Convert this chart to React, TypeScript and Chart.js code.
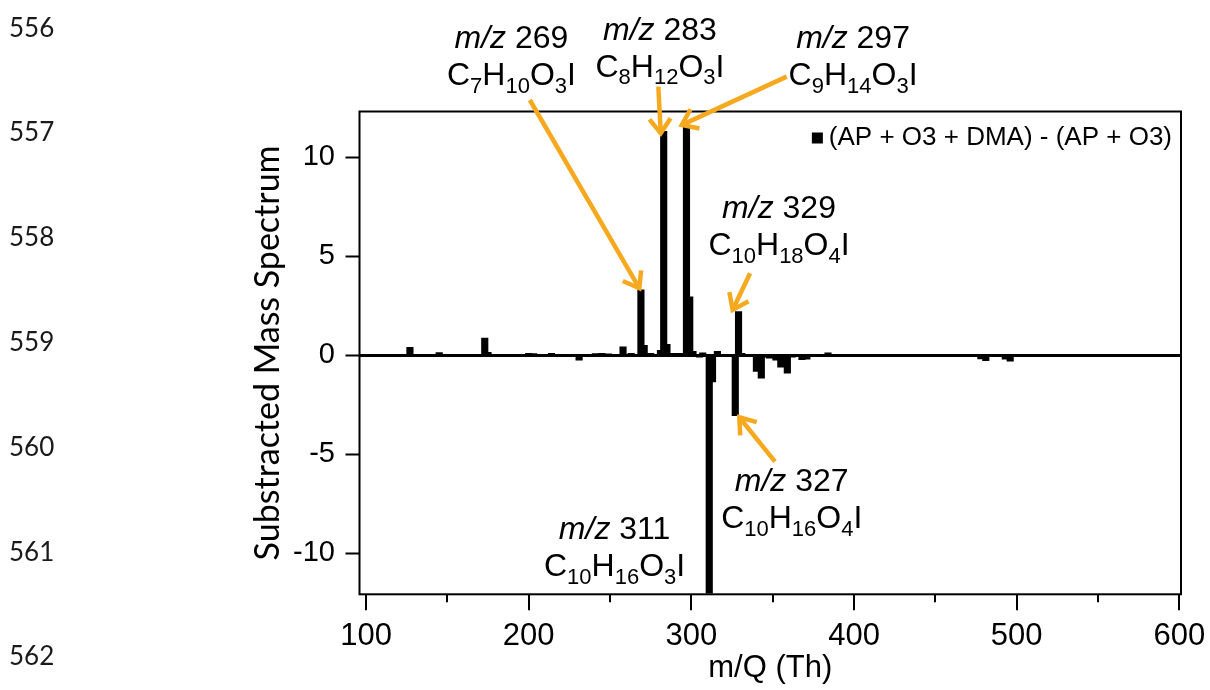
import React, { useEffect, useRef } from 'react';
import { Chart, registerables } from 'chart.js';

Chart.register(...registerables);

// ---------- data ----------
const mzValues = [
  127, 145, 173, 175, 200, 203, 214, 231, 241, 245, 249, 258, 263, 269, 271, 275,
  281, 283, 285, 289, 293, 297, 299, 301, 305, 307, 311, 313, 316, 327, 329, 331,
  340, 343, 345, 348, 352, 355, 359, 362, 368, 371, 377, 384, 478, 481, 493, 496,
];
const signalValues = [
  0.4, 0.14, 0.87, 0.15, 0.1, 0.08, 0.1, -0.25, 0.08, 0.1, 0.05, 0.42, 0.1, 3.3, 0.5, 0.1,
  0.25, 11.3, 0.55, 0.1, 0.1, 11.5, 2.95, 0.2, -0.1, 0.12, -12.0, -1.35, 0.2, -3.05, 2.2, 0.1,
  -0.82, -1.15, -0.1, -0.15, -0.25, -0.6, -0.9, -0.1, -0.22, -0.2, -0.05, 0.12, -0.18, -0.27, -0.2, -0.3,
];
const seriesLabel = '(AP + O3 + DMA) - (AP + O3)';
const xTitle = 'm/Q (Th)';
const yTitle = 'Substracted Mass Spectrum';
const lineNumbers = ['556', '557', '558', '559', '560', '561', '562'];

// annotations (data coordinates)
const annotationMz = [269, 283, 297, 329, 327, 311];
const annotationFormula = ['C7H10O3I', 'C8H12O3I', 'C9H14O3I', 'C10H18O4I', 'C10H16O4I', 'C10H16O3I'];
const labelAnchorX = [189.4, 280.7, 399.4, 353.9, 361.7, 252.8];
const labelAnchorY = [16.08, 16.5, 16.08, 7.5, -6.29, -8.71];
const arrowTailX = [200.7, 279.7, 358.6, 336.1, 351.4, null];
const arrowTailY = [12.88, 13.55, 14.06, 4.14, -5.37, null];
const arrowTipX = [268.0, 281.2, 294.1, 325.4, 329.5, null];
const arrowTipY = [3.38, 11.2, 11.62, 2.29, -3.13, null];

const FONT = "'Liberation Sans', Arial, Helvetica, sans-serif";
const ORANGE = '#F6A91F';

const framePlugin = {
  id: 'frameBox',
  afterDatasetsDraw(chart: any) {
    const { ctx, chartArea: a } = chart;
    ctx.save();
    ctx.strokeStyle = '#000';
    ctx.lineWidth = 2;
    ctx.strokeRect(a.left, a.top, a.right - a.left, a.bottom - a.top);
    const xs = chart.scales.x;
    xs.ticks.forEach((t: any) => {
      const major = Math.abs(t.value % 100) < 1e-6;
      const px = Math.round(xs.getPixelForValue(t.value));
      ctx.beginPath();
      ctx.moveTo(px, a.bottom);
      ctx.lineTo(px, a.bottom + (major ? 16 : 8));
      ctx.stroke();
    });
    ctx.restore();
  },
};

const legendPlugin = {
  id: 'insideLegend',
  afterDraw(chart: any) {
    const { ctx, chartArea: a } = chart;
    const ds = chart.data.datasets[0];
    ctx.save();
    ctx.font = `26px ${FONT}`;
    const w = ctx.measureText(ds.label).width;
    const right = a.right - 9;
    const cy = a.top + 26.5;
    const tx = right - w;
    ctx.fillStyle = ds.backgroundColor;
    ctx.fillRect(tx - 17, cy - 5.5, 11, 11);
    ctx.fillStyle = '#000';
    ctx.textBaseline = 'middle';
    ctx.textAlign = 'left';
    ctx.fillText(ds.label, tx, cy);
    ctx.restore();
  },
};

function drawMzLine(ctx: CanvasRenderingContext2D, mz: number, cx: number, baseline: number) {
  ctx.font = `italic 32px ${FONT}`;
  const w1 = ctx.measureText('m/z').width;
  ctx.font = `32px ${FONT}`;
  const rest = ' ' + mz;
  const w2 = ctx.measureText(rest).width;
  let x = cx - (w1 + w2) / 2;
  ctx.font = `italic 32px ${FONT}`;
  ctx.fillText('m/z', x, baseline);
  x += w1;
  ctx.font = `32px ${FONT}`;
  ctx.fillText(rest, x, baseline);
}

function drawFormula(ctx: CanvasRenderingContext2D, formula: string, cx: number, baseline: number) {
  const parts = formula.split('').map((ch) => ({ ch, sub: /[0-9]/.test(ch) }));
  let total = 0;
  const widths = parts.map((p) => {
    ctx.font = p.sub ? `22px ${FONT}` : `32px ${FONT}`;
    const w = ctx.measureText(p.ch).width;
    total += w;
    return w;
  });
  let x = cx - total / 2;
  parts.forEach((p, i) => {
    ctx.font = p.sub ? `22px ${FONT}` : `32px ${FONT}`;
    ctx.fillText(p.ch, x, p.sub ? baseline + 7.5 : baseline);
    x += widths[i];
  });
}

function drawArrow(ctx: CanvasRenderingContext2D, x1: number, y1: number, x2: number, y2: number) {
  const dx = x2 - x1;
  const dy = y2 - y1;
  const len = Math.hypot(dx, dy);
  const ux = dx / len;
  const uy = dy / len;
  const L = 18;
  const th = (36 * Math.PI) / 180;
  const ax1 = x2 - L * (ux * Math.cos(th) - uy * Math.sin(th));
  const ay1 = y2 - L * (uy * Math.cos(th) + ux * Math.sin(th));
  const ax2 = x2 - L * (ux * Math.cos(-th) - uy * Math.sin(-th));
  const ay2 = y2 - L * (uy * Math.cos(-th) + ux * Math.sin(-th));
  ctx.beginPath();
  ctx.moveTo(x1, y1);
  ctx.lineTo(x2 - ux * 1.5, y2 - uy * 1.5);
  ctx.stroke();
  ctx.beginPath();
  ctx.moveTo(ax1, ay1);
  ctx.lineTo(x2, y2);
  ctx.lineTo(ax2, ay2);
  ctx.stroke();
}

const annotationPlugin = {
  id: 'peakAnnotations',
  afterDraw(chart: any) {
    const { ctx } = chart;
    const xs = chart.scales.x;
    const ys = chart.scales.y;
    ctx.save();
    ctx.fillStyle = '#000';
    ctx.textAlign = 'left';
    ctx.textBaseline = 'alphabetic';
    annotationMz.forEach((mz, i) => {
      const cx = xs.getPixelForValue(labelAnchorX[i]);
      const cy = ys.getPixelForValue(labelAnchorY[i]);
      const base = cy + 11.5;
      drawMzLine(ctx, mz, cx, base);
      drawFormula(ctx, annotationFormula[i], cx, base + 37);
    });
    ctx.strokeStyle = ORANGE;
    ctx.lineWidth = 4.5;
    ctx.lineCap = 'butt';
    ctx.lineJoin = 'miter';
    annotationMz.forEach((_, i) => {
      const tx = arrowTailX[i];
      const ty = arrowTailY[i];
      const hx = arrowTipX[i];
      const hy = arrowTipY[i];
      if (tx === null || ty === null || hx === null || hy === null) return;
      drawArrow(
        ctx,
        xs.getPixelForValue(tx),
        ys.getPixelForValue(ty),
        xs.getPixelForValue(hx),
        ys.getPixelForValue(hy)
      );
    });
    ctx.restore();
  },
};

export default function App() {
  const canvasRef = useRef<HTMLCanvasElement | null>(null);

  useEffect(() => {
    if (!canvasRef.current) return;
    const chart = new Chart(canvasRef.current, {
      type: 'bar',
      data: {
        datasets: [
          {
            label: seriesLabel,
            data: mzValues.map((m, i) => ({ x: m, y: signalValues[i] })),
            backgroundColor: '#000',
            borderWidth: 0,
            barThickness: 6.5,
          } as any,
        ],
      },
      options: {
        responsive: false,
        animation: false,
        events: [],
        layout: { padding: { left: 243.6, top: 111.5, right: 29, bottom: 3.4 } },
        plugins: { legend: { display: false }, tooltip: { enabled: false } },
        scales: {
          x: {
            type: 'linear',
            position: 'bottom',
            min: 96,
            max: 601,
            offset: false,
            ticks: {
              stepSize: 50,
              includeBounds: false,
              autoSkip: false,
              maxRotation: 0,
              padding: 7.1,
              color: '#000',
              font: { family: FONT, size: 31 },
              callback: (v: any) => (Number(v) % 100 === 0 ? String(v) : ''),
            },
            grid: {
              drawOnChartArea: false,
              drawTicks: true,
              tickLength: 16,
              tickWidth: 0,
              color: 'rgba(0,0,0,0)',
              tickColor: 'rgba(0,0,0,0)',
            },
            border: { display: false },
            title: {
              display: true,
              text: xTitle,
              color: '#000',
              font: { family: FONT, size: 31 },
              padding: { top: 0, bottom: 0 },
            },
            afterFit: (s: any) => {
              s.height = 92.3;
              s.paddingLeft = 0;
              s.paddingRight = 0;
            },
          },
          y: {
            type: 'linear',
            min: -12.06,
            max: 12.3,
            ticks: {
              stepSize: 5,
              includeBounds: false,
              padding: 10.5,
              color: '#000',
              font: { family: FONT, size: 29 },
            },
            grid: {
              drawTicks: true,
              tickLength: 14,
              tickWidth: 2,
              tickColor: '#000',
              color: (c: any) => (c.tick && c.tick.value === 0 ? '#000' : 'rgba(0,0,0,0)'),
              lineWidth: (c: any) => (c.tick && c.tick.value === 0 ? 3 : 1),
            },
            border: { display: false },
            title: {
              display: true,
              text: yTitle,
              color: '#000',
              font: { family: 'Lato, sans-serif', size: 34 },
              padding: { top: 4, bottom: 4 },
            },
            afterFit: (s: any) => {
              s.width = 115.9;
              s.paddingTop = 0;
              s.paddingBottom = 0;
            },
          },
        },
      } as any,
      plugins: [framePlugin, legendPlugin, annotationPlugin],
    });
    return () => chart.destroy();
  }, []);

  return (
    <div style={{ position: 'absolute', left: 0, top: 0, width: 1210, height: 690, background: '#fff' }}>
      <canvas ref={canvasRef} width={1210} height={690} style={{ position: 'absolute', left: 0, top: 0 }} />
      {lineNumbers.map((n, i) => (
        <div
          key={n}
          style={{
            position: 'absolute',
            left: 9,
            top: 26.5 + 104.8 * i - 16,
            height: 32,
            lineHeight: '32px',
            fontFamily: 'Lato, sans-serif',
            fontSize: 26,
            color: '#1a1a1a',
          }}
        >
          {n}
        </div>
      ))}
    </div>
  );
}
